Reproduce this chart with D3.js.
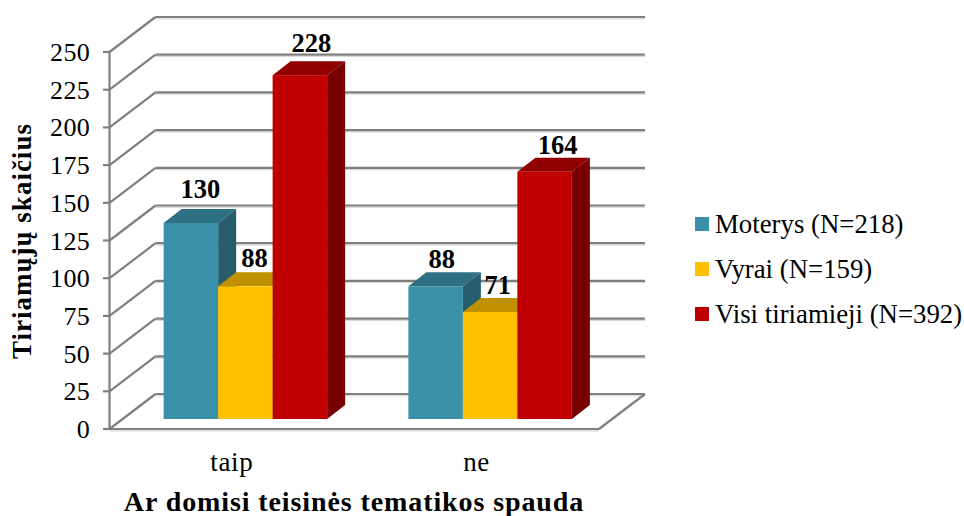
<!DOCTYPE html>
<html><head><meta charset="utf-8">
<script src="https://cdn.jsdelivr.net/npm/d3@7"></script>
<style>html,body{margin:0;padding:0;background:#fff}svg{display:block}text{font-family:"Liberation Serif",serif;fill:#000}</style>
</head><body><div id="c"></div>
<script>
const categories = ["taip", "ne"];
const seriesNames = ["Moterys (N=218)", "Vyrai (N=159)", "Visi tiriamieji (N=392)"];
const moterys = [130, 88];
const vyrai = [88, 71];
const visi = [228, 164];
const seriesValues = [moterys, vyrai, visi];
const yTicks = [0, 25, 50, 75, 100, 125, 150, 175, 200, 225, 250];
const yTitle = "Tiriamųjų skaičius";
const xTitle = "Ar domisi teisinės tematikos spauda";

const frontColors = ["#3B90A9", "#FFC000", "#C00000"];
const topColors = ["#2E7083", "#BF9000", "#900000"];
const sideColors = ["#265C6C", "#BF9000", "#780000"];

const W = 964, H = 516;
const svg = d3.select("#c").append("svg").attr("width", W).attr("height", H);

const frontX0 = 109.5, frontX1 = 599, wallDx = 46, wallDy = 35;
const y = d3.scaleLinear().domain([0, 250]).range([429, 52]);
const x0 = d3.scaleBand().domain(categories).range([frontX0, frontX1]);
const barDx = 13.5, barDy = 10, depthX = 18, depthY = 14;
const xGroup = d3.scaleBand().domain(categories).range([frontX0 + barDx, frontX1 + barDx]).paddingInner(0.332).paddingOuter(0.166);
const xBar = d3.scaleBand().domain(d3.range(seriesNames.length)).range([0, xGroup.bandwidth()]);

const grid = svg.append("g");
const gridStroke = "#7f7f7f", halo = "#d8d8d8";
function ln(g, a, b, c, d, s, w) {
  g.append("line").attr("x1", a).attr("y1", b).attr("x2", c).attr("y2", d).attr("stroke", s).attr("stroke-width", w);
}
yTicks.forEach(t => {
  ln(grid, frontX0 + wallDx, y(t) - wallDy + 1.8, frontX1 + wallDx, y(t) - wallDy + 1.8, halo, 1.2);
});
ln(grid, frontX0, y(0) + 1.8, frontX1, y(0) + 1.8, halo, 1.2);
yTicks.forEach(t => {
  ln(grid, frontX0 + wallDx, y(t) - wallDy, frontX1 + wallDx, y(t) - wallDy, gridStroke, 2.2);
  ln(grid, frontX0, y(t), frontX0 + wallDx, y(t) - wallDy, gridStroke, 2.2);
  ln(grid, frontX0 - 6.5, y(t), frontX0, y(t), gridStroke, 2.2);
});
ln(grid, frontX0, y(0), frontX1, y(0), gridStroke, 2.2);
ln(grid, frontX1, y(0), frontX1 + wallDx, y(0) - wallDy, gridStroke, 2.2);
ln(grid, frontX0, y(0) + 1, frontX0, y(250) - 1, gridStroke, 2.2);

const barY = v => y(v) - barDy;
const bars = svg.append("g");
const labels = [];
categories.forEach((c, ci) => {
  seriesValues.forEach((vals, si) => {
    const v = vals[ci];
    const a = xGroup(c) + xBar(si), b = a + xBar.bandwidth();
    const t = barY(v), base = barY(0);
    const g = bars.append("g");
    g.append("polygon").attr("fill", sideColors[si])
      .attr("points", [[b, t], [b + depthX, t - depthY], [b + depthX, base - depthY], [b, base]].join(" "));
    g.append("polygon").attr("fill", topColors[si])
      .attr("points", [[a, t], [a + depthX, t - depthY], [b + depthX, t - depthY], [b, t]].join(" "));
    g.append("rect").attr("x", a).attr("y", t).attr("width", b - a).attr("height", base - t).attr("fill", frontColors[si]);
    labels.push({ v, x: (a + b) / 2 + 10 });
  });
});
const labelRise = [25, 19.5, 23.5, 18, 18, 17.5];
const labelShift = [-0.5, -1, 1.5, -4, -2.5, 3];
labels.forEach((l, i) => {
  svg.append("text").attr("x", l.x + labelShift[i]).attr("y", barY(l.v) - labelRise[i]).attr("text-anchor", "middle")
    .attr("font-weight", "bold").attr("font-size", 26.5).text(l.v);
});

yTicks.forEach(t => {
  svg.append("text").attr("x", 90).attr("y", y(t) + 9).attr("text-anchor", "end")
    .attr("font-size", 26).attr("letter-spacing", 0.3).text(t);
});
categories.forEach(c => {
  svg.append("text").attr("x", x0(c) + x0.bandwidth() / 2).attr("y", 471).attr("text-anchor", "middle")
    .attr("font-size", 27).attr("letter-spacing", 0.7).text(c);
});
svg.append("text").attr("x", 354).attr("y", 511).attr("text-anchor", "middle")
  .attr("font-weight", "bold").attr("font-size", 28).attr("letter-spacing", 0.9).text(xTitle);
svg.append("text").attr("transform", "translate(31,241) rotate(-90)").attr("text-anchor", "middle")
  .attr("font-weight", "bold").attr("font-size", 27).attr("letter-spacing", 1).text(yTitle);

const legY = d3.scalePoint().domain(seriesNames).range([224, 314]);
seriesNames.forEach((n, i) => {
  svg.append("rect").attr("x", 695).attr("y", legY(n) - 7).attr("width", 14).attr("height", 14).attr("fill", frontColors[i]);
  svg.append("text").attr("x", 715).attr("y", legY(n) + 8.5).attr("font-size", 26.8).text(n);
});
</script></body></html>
